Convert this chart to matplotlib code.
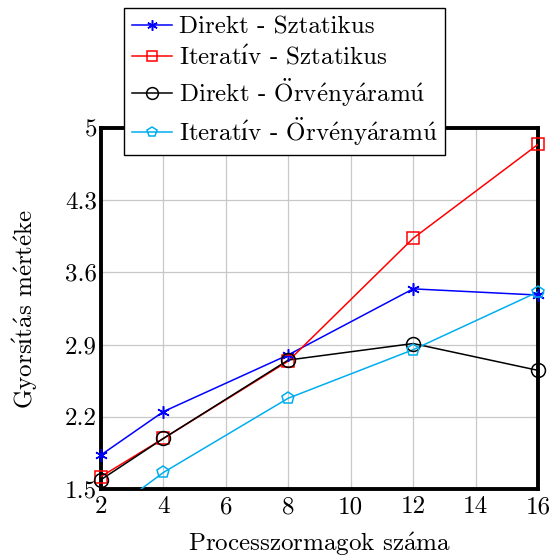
import numpy as np
import matplotlib
matplotlib.use("Agg")
from matplotlib import pyplot as plt

plt.rcParams['font.family'] = ['cmr10', 'DejaVu Serif']
plt.rcParams['mathtext.fontset'] = 'cm'
plt.rcParams['axes.formatter.use_mathtext'] = True

# processzormagok szama es a mert gyorsitasok
cores = [2, 4, 8, 12, 16]
direkt_sztat = [1.83, 2.25, 2.80, 3.44, 3.38]
iter_sztat = [1.62, 1.99, 2.74, 3.93, 4.84]
direkt_orveny = [1.59, 1.99, 2.75, 2.91, 2.65]
iter_orveny = [1.21, 1.66, 2.38, 2.85, 3.41]

# az ekezetes szavak mathtext-tel, hogy cm betukeszlettel jelenjenek meg
labels = [
    "Direkt - Sztatikus",
    r"$\mathrm{Iterat\'{ı}v}$ - Sztatikus",
    r"Direkt - $\mathrm{\"{O}rv\'{e}ny\'{a}ram\'{u}}$",
    r"$\mathrm{Iterat\'{ı}v}$ - $\mathrm{\"{O}rv\'{e}ny\'{a}ram\'{u}}$",
]
values = [direkt_sztat, iter_sztat, direkt_orveny, iter_orveny]
colors = ["#0000ff", "#ff0000", "#000000", "#00aeef"]
markers = [(6, 2, 0), "s", "o", "p"]
yticks = [1.5, 2.2, 2.9, 3.6, 4.3, 5]
xticks = [2, 4, 6, 8, 10, 12, 14, 16]

fig = plt.figure(figsize=(5.5, 5.58), dpi=100)
ax = fig.add_axes([0.1836, 0.1237, 0.7945, 0.6470])
ymin, ymax = 1.5, 5

handles = []
for label, vals, col, mk in zip(labels, values, colors, markers):
    vals = np.array(vals)
    ax.plot(cores, vals, color=col, lw=1.1, zorder=3)
    # jelolok a tengelyen kivul ne latszodjanak, de a szelen levok igen
    inside = np.ma.masked_where((vals < ymin) | (vals > ymax), vals)
    ms = 10 if mk == "o" else 9
    ax.plot(cores, inside, ls="none", marker=mk, ms=ms, mfc="none", mec=col,
            mew=1.1, clip_on=False, zorder=4)
    h, = ax.plot([], [], color=col, lw=1.1, marker=mk, ms=ms - 1.5, mfc="none",
                 mec=col, mew=1.1, label=label)
    handles.append(h)

ax.set_xlim(2, 16)
ax.set_ylim(ymin, ymax)
ax.set_xticks(xticks)
ax.set_yticks(yticks)
ax.set_xticklabels([str(x) for x in xticks])
ax.set_yticklabels(["1.5", "2.2", "2.9", "3.6", "4.3", "5"])
ax.grid(True, color="#c8c8c8", lw=0.9)
ax.set_axisbelow(True)
ax.tick_params(labelsize=18, length=5, width=0.8, color="#c8c8c8", direction="in",
               top=True, right=True)
ax.tick_params(axis="x", pad=5)
ax.tick_params(axis="y", pad=3)
for s in ax.spines.values():
    s.set_linewidth(2.8)
    s.set_zorder(2.5)

ax.set_xlabel(r"Processzormagok $\mathrm{sz\'{a}ma}$", fontsize=18, labelpad=9)
ax.set_ylabel(r"$\mathrm{Gyors\'{ı}t\'{a}s}$ $\mathrm{m\'{e}rt\'{e}ke}$",
              fontsize=18, labelpad=18)

leg = fig.legend(handles=handles, loc="upper center", bbox_to_anchor=(0.518, 0.985),
                 fontsize=18, frameon=True, fancybox=False, edgecolor="black",
                 framealpha=1, handlelength=1.6, handletextpad=0.3,
                 labelspacing=0.25, borderpad=0.3, borderaxespad=0)
leg.get_frame().set_linewidth(1.0)

fig.savefig("out.png", dpi=100)
